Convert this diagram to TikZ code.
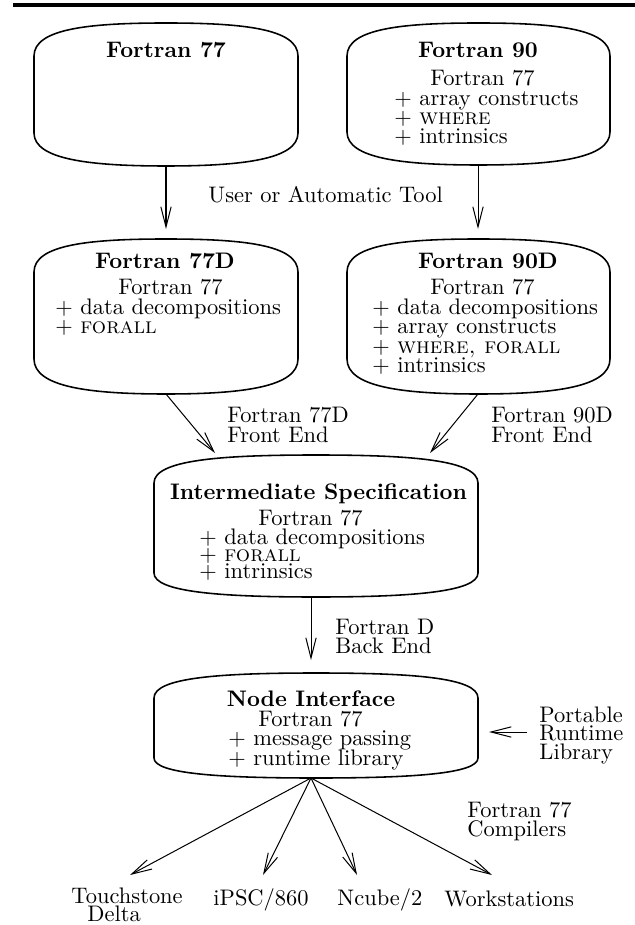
\documentclass[tikz,border=0pt]{standalone}
\usetikzlibrary{arrows.meta}
\newcommand\tapeshape[7]{%
  \pgfmathsetmacro\tpC{(#2+#3)/2}%
  \pgfmathsetmacro\tpA{#2+0.21*(#3-#2)}%
  \pgfmathsetmacro\tpB{#3-0.21*(#3-#2)}%
  \pgfmathsetmacro\tpU{#4+#6}%
  \pgfmathsetmacro\tpUc{#4+0.17*#6}%
  \pgfmathsetmacro\tpD{#5-#7}%
  \pgfmathsetmacro\tpDc{#5-0.2*#7}%
  \draw[boxline] (#2,\tpU) .. controls (#2,\tpUc) and (\tpA,#4) .. (\tpC,#4)
     .. controls (\tpB,#4) and (#3,\tpUc) .. (#3,\tpU) -- (#3,\tpD)
     .. controls (#3,\tpDc) and (\tpB,#5) .. (\tpC,#5)
     .. controls (\tpA,#5) and (#2,\tpDc) .. (#2,\tpD) -- cycle;
}
\begin{document}
\begin{tikzpicture}[x=0.445pt,y=-0.445pt,
  boxline/.style={line width=0.7pt},
  arr/.style={-{Straight Barb[length=9pt,width=4.6pt]},line width=0.45pt},
  txt/.style={inner sep=0pt,anchor=base west},
  ttl/.style={inner sep=0pt,anchor=base,font=\bfseries}]
\useasboundingbox (0,0) rectangle (635,925);
\draw[line width=1.6pt] (13,5) -- (635,5);

% boxes
\tapeshape{b1}{34}{298}{23}{166}{33}{33}
\tapeshape{b2}{347}{610}{23}{165}{33}{33}
\tapeshape{b3}{34}{298}{239}{394}{33}{35}
\tapeshape{b4}{347}{610}{239}{394}{33}{35}
\tapeshape{b5}{154}{478}{455}{597}{28}{24}
\tapeshape{b6}{154}{478}{673}{778}{25}{20}

% box texts
\node[ttl] (b1t) at (166,58) {Fortran 77};

\node[ttl] (b2t) at (478,57.5) {Fortran 90};
\node[txt] (b2a) at (430,86) {Fortran 77};
\node[txt] (b2b) at (394,105.5) {+ array constructs};
\node[txt] (b2c) at (394,125) {+ \textsc{where}};
\node[txt] (b2d) at (394,144) {+ intrinsics};

\node[ttl] (b3t) at (165,269) {Fortran 77D};
\node[txt] (b3a) at (118,295) {Fortran 77};
\node[txt] (b3b) at (55,314.5) {+ data decompositions};
\node[txt] (b3c) at (55,334) {+ \textsc{forall}};

\node[ttl] (b4t) at (488,269) {Fortran 90D};
\node[txt] (b4a) at (430,295) {Fortran 77};
\node[txt] (b4b) at (372,314.5) {+ data decompositions};
\node[txt] (b4c) at (372,334) {+ array constructs};
\node[txt] (b4d) at (372,353.5) {+ \textsc{where, forall}};
\node[txt] (b4e) at (372,373) {+ intrinsics};

\node[ttl] (b5t) at (318.5,499) {Intermediate Specification};
\node[txt] (b5a) at (258,525) {Fortran 77};
\node[txt] (b5b) at (199,544.5) {+ data decompositions};
\node[txt] (b5c) at (199,561.5) {+ \textsc{forall}};
\node[txt] (b5d) at (199,578.5) {+ intrinsics};

\node[ttl] (b6t) at (311,706) {Node Interface};
\node[txt] (b6a) at (258,726) {Fortran 77};
\node[txt] (b6b) at (228,745.5) {+ message passing};
\node[txt] (b6c) at (228,765) {+ runtime library};

% labels
\node[txt] (l1) at (208,203) {User or Automatic Tool};
\node[txt] (l2a) at (227,422) {Fortran 77D};
\node[txt] (l2b) at (227,442) {Front End};
\node[txt] (l3a) at (491,422) {Fortran 90D};
\node[txt] (l3b) at (491,442) {Front End};
\node[txt] (l4a) at (335,634.5) {Fortran D};
\node[txt] (l4b) at (335,653.5) {Back End};
\node[txt] (l5a) at (539,722) {Portable};
\node[txt] (l5b) at (539,740.5) {Runtime};
\node[txt] (l5c) at (539,759) {Library};
\node[txt] (l6a) at (467,817) {Fortran 77};
\node[txt] (l6b) at (467,836) {Compilers};
\node[txt] (m1a) at (71,903) {Touchstone};
\node[txt] (m1b) at (87,921.5) {Delta};
\node[txt] (m2) at (213,905) {iPSC/860};
\node[txt] (m3) at (337,905) {Ncube/2};
\node[txt] (m4) at (444,906) {Workstations};

% connector end points
\coordinate (s1) at (166,166);
\coordinate (e1) at (166,229);
\coordinate (s2) at (478,165);
\coordinate (e2) at (478,229);
\coordinate (s3) at (166,394);
\coordinate (e3) at (215,453);
\coordinate (s4) at (478,394);
\coordinate (e4) at (430,453);
\coordinate (s5) at (311,597);
\coordinate (e5) at (311,660);
\coordinate (s6) at (527,732);
\coordinate (e6) at (489,732);
\coordinate (s7) at (311,778);
\coordinate (f1) at (130,875);
\coordinate (f2) at (263,875);
\coordinate (f3) at (357,875);
\coordinate (f4) at (492,875);

\draw[arr] (s1) -- (e1);
\draw[arr] (s2) -- (e2);
\draw[arr] (s3) -- (e3);
\draw[arr] (s4) -- (e4);
\draw[arr] (s5) -- (e5);
\draw[arr] (s6) -- (e6);
\draw[arr] (s7) -- (f1);
\draw[arr] (s7) -- (f2);
\draw[arr] (s7) -- (f3);
\draw[arr] (s7) -- (f4);
\end{tikzpicture}
\end{document}
